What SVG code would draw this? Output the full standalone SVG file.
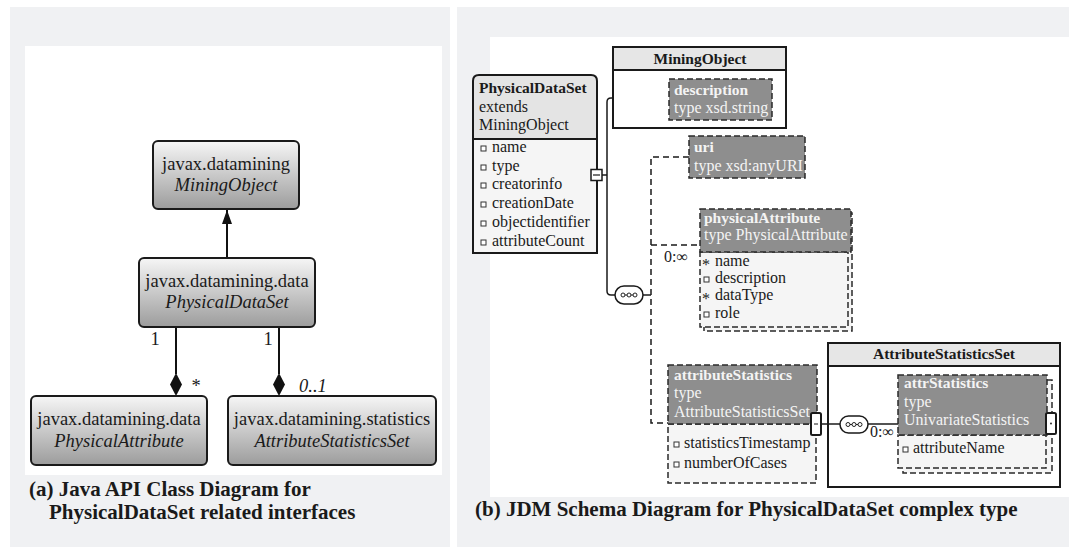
<svg xmlns="http://www.w3.org/2000/svg" width="1069" height="547" viewBox="0 0 1069 547">
<defs>
<linearGradient id="g" x1="0" y1="0" x2="0" y2="1">
<stop offset="0" stop-color="#f6f6f6"/>
<stop offset="1" stop-color="#9c9c9c"/>
</linearGradient>
<marker id="tri" viewBox="0 0 14 10" refX="14" refY="5" markerWidth="14" markerHeight="10" markerUnits="userSpaceOnUse" orient="auto">
<path d="M0,0 L14,5 L0,10 Z" fill="#111"/>
</marker>
<g id="dots">
<line x1="-7" y1="0" x2="7" y2="0" stroke="#222" stroke-width="1"/>
<circle cx="-6" cy="0" r="2" fill="#fff" stroke="#222" stroke-width="1"/>
<circle cx="0" cy="0" r="2" fill="#fff" stroke="#222" stroke-width="1"/>
<circle cx="6" cy="0" r="2" fill="#fff" stroke="#222" stroke-width="1"/>
</g>
</defs>
<style>
.panel{fill:#f0f1f3}
.inner{fill:#ffffff}
.cls{fill:url(#g);stroke:#1a1a1a;stroke-width:2}
.t{fill:#1a1a1a}
.n{font-size:18.5px}
.it{font-style:italic}
.cap{font-size:21px;font-weight:bold}
.s{font-size:16px}
.b{font-weight:bold;font-size:15.5px}
.w{fill:#f4f4f4}
.dark{fill:#8e8e8e;stroke:#2a2a2a;stroke-width:1.5;stroke-dasharray:6 3}
.light{fill:#f5f5f5;stroke:#2a2a2a;stroke-width:1.5;stroke-dasharray:6 3}
.solid{fill:none;stroke:#1a1a1a;stroke-width:1.5}
.dash{fill:none;stroke:#1a1a1a;stroke-width:1.5;stroke-dasharray:6 4}
.oval{fill:#fff;stroke:#1a1a1a;stroke-width:1.5}
.blt{fill:#fff;stroke:#333;stroke-width:1}
.frame{stroke:#1a1a1a;stroke-width:2}
</style>

<!-- panels -->
<rect class="panel" x="10" y="7" width="440" height="540"/>
<rect class="inner" x="25" y="46" width="417" height="429"/>
<rect class="panel" x="457" y="7" width="612" height="540"/>
<rect class="inner" x="490" y="37" width="579" height="460"/>

<!-- ============ (a) Java API class diagram ============ -->
<g id="a-connectors" fill="none" stroke="#111" stroke-width="2">
<line x1="227" y1="258" x2="227" y2="210" marker-end="url(#tri)"/>
<line x1="176" y1="327" x2="176" y2="374"/>
<path d="M176,373 L182,384.5 L176,396 L170,384.5 Z" fill="#111" stroke="none"/>
<line x1="279" y1="327" x2="279" y2="374"/>
<path d="M279,373 L285,384.5 L279,396 L273,384.5 Z" fill="#111" stroke="none"/>
</g>
<g id="a-labels">
<text class="t n" font-family="Liberation Serif" x="155" y="345" text-anchor="middle">1</text>
<text class="t n" font-family="Liberation Serif" x="268" y="345" text-anchor="middle">1</text>
<text class="t n" font-family="Liberation Serif" x="196" y="392" text-anchor="middle">*</text>
<text class="t n it" font-family="Liberation Serif" x="299" y="392">0..1</text>
</g>

<g id="a-MiningObject">
<rect class="cls" x="153" y="141" width="146" height="68" rx="5"/>
<text class="t n" font-family="Liberation Serif" x="226" y="170" text-anchor="middle">javax.datamining</text>
<text class="t n it" font-family="Liberation Serif" x="226" y="191" text-anchor="middle">MiningObject</text>
</g>
<g id="a-PhysicalDataSet">
<rect class="cls" x="139" y="258" width="176" height="69" rx="5"/>
<text class="t n" font-family="Liberation Serif" x="227" y="287" text-anchor="middle">javax.datamining.data</text>
<text class="t n it" font-family="Liberation Serif" x="227" y="308" text-anchor="middle">PhysicalDataSet</text>
</g>
<g id="a-PhysicalAttribute">
<rect class="cls" x="31" y="396" width="176" height="69" rx="5"/>
<text class="t n" font-family="Liberation Serif" x="119" y="425" text-anchor="middle">javax.datamining.data</text>
<text class="t n it" font-family="Liberation Serif" x="119" y="447" text-anchor="middle">PhysicalAttribute</text>
</g>
<g id="a-AttributeStatisticsSet">
<rect class="cls" x="228" y="396" width="208" height="69" rx="5"/>
<text class="t n" font-family="Liberation Serif" x="332" y="425" text-anchor="middle">javax.datamining.statistics</text>
<text class="t n it" font-family="Liberation Serif" x="332" y="447" text-anchor="middle">AttributeStatisticsSet</text>
</g>
<g id="a-caption">
<text class="t cap" font-family="Liberation Serif" x="29" y="496">(a) Java API Class Diagram for</text>
<text class="t cap" font-family="Liberation Serif" x="49" y="519">PhysicalDataSet related interfaces</text>
</g>

<!-- ============ (b) JDM schema diagram ============ -->
<g id="b-connectors">
<line class="solid" x1="602" y1="175" x2="607" y2="175"/>
<path class="solid" d="M628,98 H611 Q607,98 607,102 V291 Q607,295 611,295 H615"/>
<line class="solid" x1="657" y1="98" x2="669" y2="98"/>
<line class="solid" x1="643" y1="295" x2="651" y2="295"/>
<path class="dash" d="M689,157 H651 V423 H668"/>
<line class="dash" x1="651" y1="245" x2="700" y2="245"/>
<line class="solid" x1="821" y1="424" x2="840" y2="424"/>
<line class="solid" x1="868" y1="424" x2="898" y2="424"/>
<g id="seq1"><rect class="oval" x="628" y="89" width="29" height="19" rx="9.5"/><use href="#dots" x="642.5" y="98.5"/></g>
<g id="seq2"><rect class="oval" x="615" y="286" width="28" height="18" rx="9"/><use href="#dots" x="629" y="295"/></g>
<g id="seq3"><rect class="oval" x="840" y="416" width="28" height="17" rx="8.5"/><use href="#dots" x="854" y="424.5"/></g>
</g>

<g id="b-MiningObject">
<rect x="613" y="47" width="173" height="81" fill="#fff" class="frame"/>
<rect x="613" y="47" width="173" height="23" fill="#e6e6e6" class="frame"/>
<text class="t b" font-family="Liberation Serif" x="700" y="64" text-anchor="middle">MiningObject</text>
</g>

<g id="b-description">
<rect class="dark" x="669" y="79" width="103" height="41"/>
<text class="t b w" font-family="Liberation Serif" x="674" y="95">description</text>
<text class="t s w" font-family="Liberation Serif" x="674" y="113">type xsd.string</text>
</g>

<g id="b-PhysicalDataSet">
<rect x="473" y="139" width="124" height="114" fill="#f5f5f5"/>
<path d="M473,139 V81 Q473,75 479,75 H591 Q597,75 597,81 V139 Z" fill="#e4e4e4"/>
<path d="M473,253 V81 Q473,75 479,75 H591 Q597,75 597,81 V253 Z" fill="none" class="frame"/>
<line x1="473" y1="139" x2="597" y2="139" class="frame"/>
<text class="t b" font-family="Liberation Serif" x="479" y="93">PhysicalDataSet</text>
<text class="t s" font-family="Liberation Serif" x="479" y="112">extends</text>
<text class="t s" font-family="Liberation Serif" x="479" y="130">MiningObject</text>
<text class="t s" font-family="Liberation Serif" x="492" y="152">name</text>
<text class="t s" font-family="Liberation Serif" x="492" y="171">type</text>
<text class="t s" font-family="Liberation Serif" x="492" y="189">creatorinfo</text>
<text class="t s" font-family="Liberation Serif" x="492" y="208">creationDate</text>
<text class="t s" font-family="Liberation Serif" x="492" y="227">objectidentifier</text>
<text class="t s" font-family="Liberation Serif" x="492" y="246">attributeCount</text>
<rect class="blt" x="481" y="146" width="5" height="5"/>
<rect class="blt" x="481" y="165" width="5" height="5"/>
<rect class="blt" x="481" y="183" width="5" height="5"/>
<rect class="blt" x="481" y="202" width="5" height="5"/>
<rect class="blt" x="481" y="221" width="5" height="5"/>
<rect class="blt" x="481" y="240" width="5" height="5"/>
<rect x="591" y="169.5" width="11" height="11" fill="#fff" stroke="#1a1a1a" stroke-width="1.5"/>
<line x1="593" y1="175" x2="600" y2="175" stroke="#1a1a1a" stroke-width="1.2"/>
</g>

<g id="b-uri">
<rect class="dark" x="689" y="136" width="116" height="42"/>
<text class="t b w" font-family="Liberation Serif" x="694" y="152">uri</text>
<text class="t s w" font-family="Liberation Serif" x="694" y="171">type xsd:anyURI</text>
</g>

<g id="b-physicalAttribute">
<rect class="light" x="704" y="213" width="148" height="118"/>
<rect class="light" x="700" y="252" width="148" height="75"/>
<rect class="dark" x="700" y="209" width="151" height="43"/>
<text class="t b w" font-family="Liberation Serif" x="704" y="223">physicalAttribute</text>
<text class="t s w" font-family="Liberation Serif" x="704" y="240">type PhysicalAttribute</text>
<text class="t s" font-family="Liberation Serif" x="702" y="270">*</text>
<text class="t s" font-family="Liberation Serif" x="715" y="266">name</text>
<text class="t s" font-family="Liberation Serif" x="715" y="283">description</text>
<text class="t s" font-family="Liberation Serif" x="702" y="304">*</text>
<text class="t s" font-family="Liberation Serif" x="715" y="300">dataType</text>
<text class="t s" font-family="Liberation Serif" x="715" y="318">role</text>
<rect class="blt" x="704" y="277" width="5" height="5"/>
<rect class="blt" x="704" y="312" width="5" height="5"/>
<text class="t s" font-family="Liberation Serif" x="664" y="262">0:∞</text>
</g>

<g id="b-attributeStatistics">
<rect class="light" x="668" y="424" width="148" height="59"/>
<rect class="dark" x="668" y="365" width="149" height="59"/>
<text class="t b w" font-family="Liberation Serif" x="674" y="380">attributeStatistics</text>
<text class="t s w" font-family="Liberation Serif" x="674" y="398">type</text>
<text class="t s w" font-family="Liberation Serif" x="674" y="417">AttributeStatisticsSet</text>
<text class="t s" font-family="Liberation Serif" x="684" y="448">statisticsTimestamp</text>
<text class="t s" font-family="Liberation Serif" x="684" y="468">numberOfCases</text>
<rect class="blt" x="674" y="442" width="5" height="5"/>
<rect class="blt" x="674" y="462" width="5" height="5"/>
<rect x="811" y="413" width="10" height="22" rx="1.5" fill="#fff" stroke="#1a1a1a" stroke-width="2"/>
<line x1="814" y1="424" x2="818" y2="424" stroke="#1a1a1a" stroke-width="1"/>
</g>

<g id="b-AttributeStatisticsSet">
<rect x="828" y="343" width="232" height="144" fill="none" class="frame"/>
<rect x="828" y="343" width="232" height="23" fill="#e6e6e6" class="frame"/>
<text class="t b" font-family="Liberation Serif" x="944" y="359" text-anchor="middle">AttributeStatisticsSet</text>
<text class="t s" font-family="Liberation Serif" x="870" y="437">0:∞</text>
</g>

<g id="b-attrStatistics">
<rect class="light" x="903" y="380" width="149" height="93"/>
<rect class="light" x="898" y="435" width="148" height="33"/>
<rect class="dark" x="898" y="375" width="149" height="60"/>
<text class="t b w" font-family="Liberation Serif" x="904" y="388">attrStatistics</text>
<text class="t s w" font-family="Liberation Serif" x="904" y="407">type</text>
<text class="t s w" font-family="Liberation Serif" x="904" y="425">UnivariateStatistics</text>
<text class="t s" font-family="Liberation Serif" x="913" y="453">attributeName</text>
<rect class="blt" x="903" y="447" width="5" height="5"/>
<rect x="1046" y="413" width="10" height="21" rx="1.5" fill="#fff" stroke="#1a1a1a" stroke-width="2"/>
<circle cx="1051" cy="423.5" r="0.9" fill="#1a1a1a"/>
</g>

<g id="b-caption">
<text class="t cap" font-family="Liberation Serif" x="475" y="516">(b) JDM Schema Diagram for PhysicalDataSet complex type</text>
</g>
</svg>
